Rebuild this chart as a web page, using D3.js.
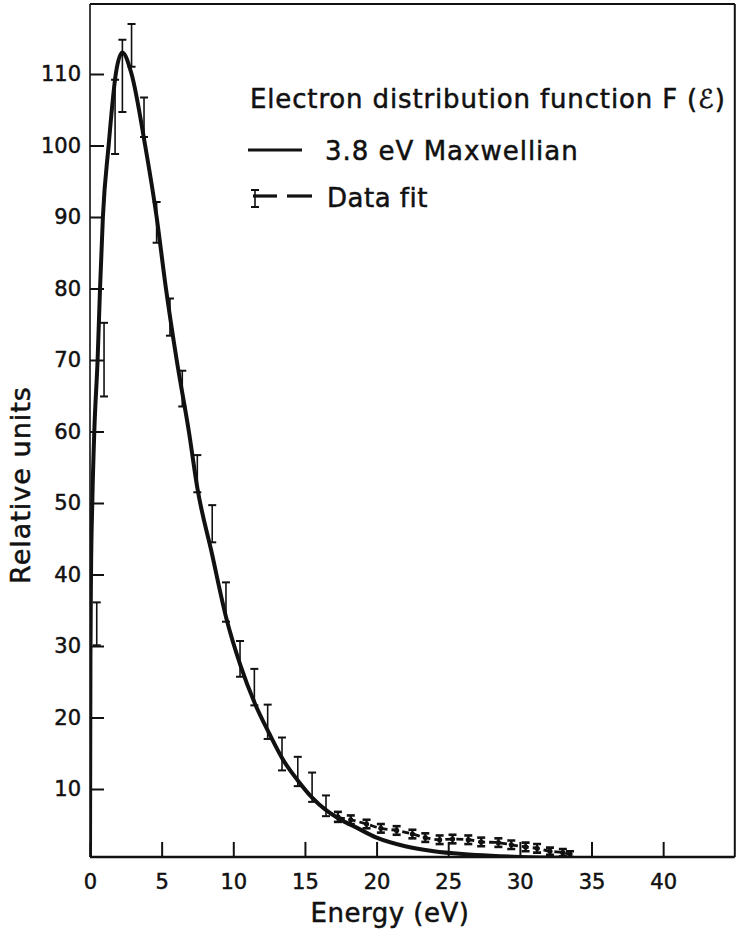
<!DOCTYPE html>
<html>
<head>
<meta charset="utf-8">
<script src="https://cdn.jsdelivr.net/npm/d3@7"></script>
<style>
  body { margin: 0; background: #fff; }
  text { font-family: "DejaVu Sans", sans-serif; fill: #111; stroke: #111; stroke-width: 0.5px; }
</style>
</head>
<body>
<div class="chart"></div>
<script>
// ticks
const energyTicks = [0, 5, 10, 15, 20, 25, 30, 35, 40];
const unitTicks = [10, 20, 30, 40, 50, 60, 70, 80, 90, 100, 110];

// 3.8 eV Maxwellian
const maxE = [0, 0.03, 0.07, 0.16, 0.3, 0.53, 0.7, 0.9, 1.3, 1.8, 2.25, 2.9, 3.85, 4.65, 5.3, 6.05, 6.9, 7.5, 8.5, 9.5, 10.5, 11.5, 12.5, 13.5, 14.5, 15.5, 16.5, 17.5, 18.5, 20, 22, 24, 26, 28, 30, 33.5];
const maxF = [0, 28, 40, 50, 60, 70, 80, 90, 100, 110, 113, 110, 100, 90, 80, 70, 60, 52, 43, 34, 27.3, 22, 17.8, 14, 11.2, 8.8, 7, 5.7, 4.7, 3.2, 2.0, 1.3, 0.9, 0.65, 0.5, 0.4];

// data fit (dashed), where it leaves the Maxwellian
const fitE = [14.5, 15.5, 16.5, 17.3, 18.2, 19.3, 20.3, 21.4, 22.5, 23.4, 24.4, 25.3, 26.4, 27.3, 28.5, 29.4, 30.4, 31.2, 32.1, 33.0, 33.5];
const fitF = [11.2, 8.8, 7.0, 6.1, 5.7, 5.1, 4.5, 4.2, 3.7, 3.2, 2.9, 3.0, 2.9, 2.6, 2.5, 2.2, 1.9, 1.7, 1.3, 1.1, 0.9];

// error bars
const barE = [0.47, 0.98, 1.75, 2.26, 2.9, 3.77, 4.65, 5.58, 6.44, 7.49, 8.53, 9.49, 10.47, 11.47, 12.4, 13.4, 14.5, 15.5, 16.47,
              17.3, 18.2, 19.3, 20.3, 21.4, 22.5, 23.4, 24.4, 25.3, 26.4, 27.3, 28.5, 29.4, 30.4, 31.2, 32.1, 33.0, 33.5];
const barLo = [30.1, 64.9, 98.8, 104.7, 111, 101.2, 86.4, 73.4, 63.5, 51.5, 44.5, 33.4, 25.7, 21.7, 17.0, 12.6, 10.4, 8.2, 6.2,
               5.4, 5.1, 4.5, 3.9, 3.6, 3.1, 2.6, 2.3, 2.4, 2.3, 2.0, 1.9, 1.6, 1.3, 1.1, 0.8, 0.6, 0.5];
const barHi = [36.1, 75.2, 109.2, 114.8, 117, 106.7, 92.1, 78.6, 68.5, 56.7, 49.7, 38.9, 30.7, 26.8, 21.8, 17.2, 14.5, 12.3, 9.1,
               6.8, 6.3, 5.7, 5.1, 4.8, 4.3, 3.8, 3.5, 3.6, 3.5, 3.2, 3.1, 2.8, 2.5, 2.3, 1.8, 1.6, 1.3];

const frameE = [0, 45];
const frameF = [0.5, 119.8];

const w = 743, h = 935;

const x = d3.scaleLinear().domain([0, 45]).range([90, 734.8]);
const y = d3.scaleLinear().domain([0, 120]).range([860.5, 2.5]);

const svg = d3.select(".chart").append("svg")
    .attr("width", w)
    .attr("height", h);

svg.append("clipPath").attr("id", "plot")
    .append("rect")
    .attr("x", x(frameE[0]))
    .attr("y", y(frameF[1]))
    .attr("width", x(frameE[1]) - x(frameE[0]))
    .attr("height", y(frameF[0]) - y(frameF[1]));

// axes
const yAxis = d3.axisLeft(y).tickValues(unitTicks).tickSize(-14).tickSizeOuter(0).tickPadding(9);
const xAxis = d3.axisBottom(x).tickValues(energyTicks).tickSize(-15).tickSizeOuter(0).tickPadding(17);

const gy = svg.append("g")
    .attr("transform", `translate(${x(0)},0)`)
    .call(yAxis);
gy.select(".domain").remove();
gy.selectAll("line").attr("stroke", "#111").attr("stroke-width", 2);
gy.selectAll("text").attr("font-size", 21).attr("fill", "#111").style("font-family", "DejaVu Sans");

const gx = svg.append("g")
    .attr("transform", `translate(0,${y(frameF[0])})`)
    .call(xAxis);
gx.select(".domain").remove();
gx.selectAll("line").attr("stroke", "#111").attr("stroke-width", 2);
gx.selectAll("text").attr("font-size", 21).attr("fill", "#111").style("font-family", "DejaVu Sans");

// frame
const frame = svg.append("g").attr("stroke", "#111").attr("fill", "none");
frame.append("line").attr("x1", x(frameE[0])).attr("x2", x(frameE[1]))
    .attr("y1", y(frameF[0])).attr("y2", y(frameF[0])).attr("stroke-width", 2.6);
frame.append("line").attr("x1", x(frameE[0])).attr("x2", x(frameE[1]))
    .attr("y1", y(frameF[1])).attr("y2", y(frameF[1])).attr("stroke-width", 2);
frame.append("line").attr("x1", x(frameE[0])).attr("x2", x(frameE[0]))
    .attr("y1", y(frameF[0])).attr("y2", y(frameF[1])).attr("stroke-width", 1.6);
frame.append("line").attr("x1", x(frameE[1])).attr("x2", x(frameE[1]))
    .attr("y1", y(frameF[0])).attr("y2", y(frameF[1])).attr("stroke-width", 2);

const plot = svg.append("g").attr("clip-path", "url(#plot)");

const line = d3.line()
    .x(d => x(d[0]))
    .y(d => y(d[1]))
    .curve(d3.curveMonotoneX);

plot.append("path")
    .datum(maxE.map((e, i) => [e, maxF[i]]))
    .attr("d", line)
    .attr("fill", "none")
    .attr("stroke", "#111")
    .attr("stroke-width", 4)
    .attr("stroke-linejoin", "round");

plot.append("path")
    .datum(fitE.map((e, i) => [e, fitF[i]]))
    .attr("d", line)
    .attr("fill", "none")
    .attr("stroke", "#111")
    .attr("stroke-width", 2.8)
    .attr("stroke-dasharray", "7,4");

// error bars
const bars = plot.selectAll(".bar")
    .data(barE.map((e, i) => ({ e: e, lo: barLo[i], hi: barHi[i] })))
    .enter()
    .append("g")
    .attr("class", "bar")
    .attr("stroke", "#111");

bars.append("line")
    .attr("x1", d => x(d.e)).attr("x2", d => x(d.e))
    .attr("y1", d => y(d.lo)).attr("y2", d => y(d.hi))
    .attr("stroke-width", d => d.e > 17 ? 2.2 : 1.6);
bars.append("line")
    .attr("x1", d => x(d.e) - 4).attr("x2", d => x(d.e) + 4)
    .attr("y1", d => y(d.hi)).attr("y2", d => y(d.hi))
    .attr("stroke-width", d => d.e > 17 ? 2.6 : 2);
bars.append("line")
    .attr("x1", d => x(d.e) - 4).attr("x2", d => x(d.e) + 4)
    .attr("y1", d => y(d.lo)).attr("y2", d => y(d.lo))
    .attr("stroke-width", d => d.e > 17 ? 2.6 : 2);

plot.selectAll(".pt")
    .data(fitE.map((e, i) => [e, fitF[i]]).filter(d => d[0] > 17))
    .enter()
    .append("circle")
    .attr("class", "pt")
    .attr("cx", d => x(d[0]))
    .attr("cy", d => y(d[1]))
    .attr("r", 2.6)
    .attr("fill", "#111");

// axis titles
svg.append("text")
    .attr("x", 390)
    .attr("y", 922)
    .attr("text-anchor", "middle")
    .attr("font-size", 26)
    .attr("letter-spacing", 0.5)
    .text("Energy (eV)");

svg.append("text")
    .attr("transform", "translate(30,485) rotate(-90)")
    .attr("text-anchor", "middle")
    .attr("font-size", 27)
    .attr("letter-spacing", 1)
    .text("Relative units");

// legend
const legend = svg.append("g");
legend.append("text")
    .attr("x", 250).attr("y", 108)
    .attr("font-size", 26)
    .attr("letter-spacing", 0.85)
    .text("Electron distribution function F (ℰ)");

legend.append("line")
    .attr("x1", 248).attr("x2", 302).attr("y1", 150).attr("y2", 150)
    .attr("stroke", "#111").attr("stroke-width", 3);
legend.append("text")
    .attr("x", 325).attr("y", 160)
    .attr("font-size", 26)
    .attr("letter-spacing", 1)
    .text("3.8 eV Maxwellian");

const lg = legend.append("g").attr("stroke", "#111");
lg.append("line").attr("x1", 255).attr("x2", 255).attr("y1", 190).attr("y2", 207).attr("stroke-width", 1.6);
lg.append("line").attr("x1", 251).attr("x2", 259).attr("y1", 190).attr("y2", 190).attr("stroke-width", 2);
lg.append("line").attr("x1", 251).attr("x2", 259).attr("y1", 207).attr("y2", 207).attr("stroke-width", 2);
lg.append("line").attr("x1", 253).attr("x2", 277).attr("y1", 196).attr("y2", 196).attr("stroke-width", 3.2);
lg.append("line").attr("x1", 287).attr("x2", 312).attr("y1", 196).attr("y2", 196).attr("stroke-width", 3.2);
legend.append("text")
    .attr("x", 327).attr("y", 207)
    .attr("font-size", 26)
    .attr("letter-spacing", 0.5)
    .text("Data fit");
</script>
</body>
</html>
